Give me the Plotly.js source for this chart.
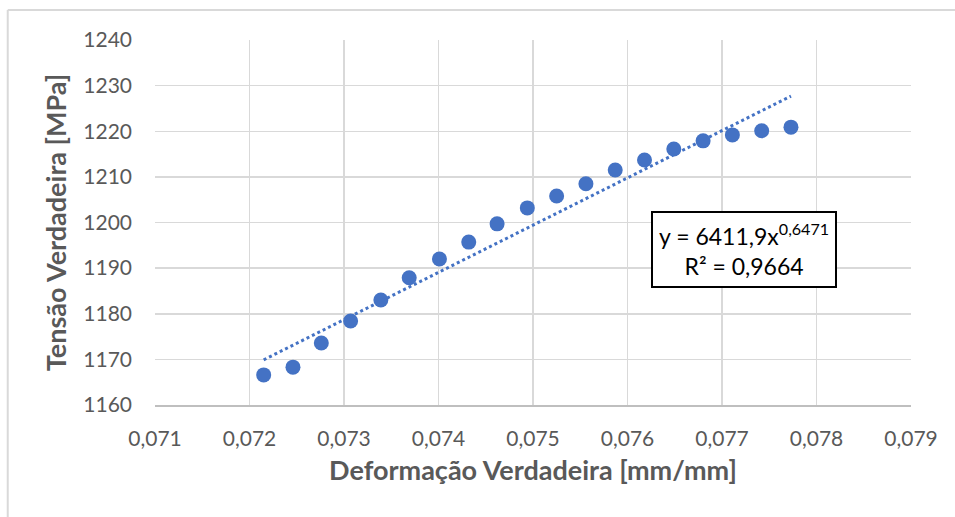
<!DOCTYPE html>
<html>
<head>
<meta charset="utf-8">
<script src="https://cdn.plot.ly/plotly-3.0.1.min.js"></script>
<style>html,body{margin:0;padding:0;background:#fff;}#chart{width:955px;height:517px;}</style>
</head>
<body>
<div id="chart"></div>
<script>
var strain = [0.07215, 0.07246, 0.07276, 0.07307, 0.07339, 0.07369, 0.07401, 0.07432, 0.07462, 0.07494,
              0.07525, 0.07556, 0.07587, 0.07618, 0.07649, 0.07680, 0.07711, 0.07742, 0.07773];
var stress = [1166.6, 1168.3, 1173.6, 1178.4, 1183.0, 1187.9, 1192.0, 1195.7, 1199.7, 1203.2,
              1205.8, 1208.5, 1211.5, 1213.7, 1216.1, 1217.9, 1219.2, 1220.1, 1220.9];
var trendX = [0.07215, 0.07494, 0.07773];
var trendY = [1169.9, 1198.8, 1227.7];
var xTickVals = [0.071, 0.072, 0.073, 0.074, 0.075, 0.076, 0.077, 0.078, 0.079];
var xTickText = ["0,071", "0,072", "0,073", "0,074", "0,075", "0,076", "0,077", "0,078", "0,079"];
var yTickVals = [1160, 1170, 1180, 1190, 1200, 1210, 1220, 1230, 1240];
var eqText = "y = 6411,9x<sup>0,6471</sup><br>R² = 0,9664";

var font = "Lato, 'Open Sans', sans-serif";
var traces = [
  {x: strain, y: stress, type: 'scatter', mode: 'markers',
   marker: {color: '#4472C4', size: 15}, hoverinfo: 'x+y'},
  {x: trendX, y: trendY, type: 'scatter', mode: 'lines',
   line: {color: '#4472C4', width: 3, dash: 'dot'}, hoverinfo: 'skip'}
];
var layout = {
  width: 955, height: 517,
  margin: {l: 154.5, r: 43.5, t: 40, b: 112},
  paper_bgcolor: '#fff', plot_bgcolor: '#fff',
  showlegend: false,
  separators: ', ',
  font: {family: font, color: '#595959', size: 21},
  xaxis: {range: [0.071, 0.079], tickvals: xTickVals, ticktext: xTickText,
          showgrid: true, gridcolor: '#d9d9d9', gridwidth: 1.5,
          showline: true, linecolor: '#bfbfbf', linewidth: 2, zeroline: false,
          ticks: '', ticklen: 0, ticklabelstandoff: 14, tickfont: {size: 21, color: '#595959'},
          title: {text: 'Deformação Verdadeira [mm/mm]', font: {size: 27, color: '#595959', family: font, weight: 'bold'}, standoff: 12}},
  yaxis: {range: [1160, 1240], tickvals: yTickVals,
          showgrid: true, gridcolor: '#d9d9d9', gridwidth: 1.5,
          showline: false, zeroline: false, ticks: '', ticklabelstandoff: 22, tickfont: {size: 21, color: '#595959'},
          title: {text: 'Tensão Verdadeira [MPa]', font: {size: 27, color: '#595959', family: font, weight: 'bold'}, standoff: 8}},
  annotations: [{
    x: 0.077228, y: 1194.1, xref: 'x', yref: 'y', text: eqText, showarrow: false,
    xanchor: 'center', yanchor: 'middle', align: 'center',
    font: {size: 23, color: '#000', family: font},
    bgcolor: '#fff', bordercolor: '#000', borderwidth: 2, borderpad: 6
  }],
  shapes: [
    {type: 'line', xref: 'paper', yref: 'paper', x0: -0.1948, x1: 1.1, y0: 1.0822, y1: 1.0822, line: {color: '#d9d9d9', width: 2}},
    {type: 'line', xref: 'paper', yref: 'paper', x0: -0.1948, x1: -0.1948, y0: 1.0822, y1: -0.35, line: {color: '#d9d9d9', width: 2}}
  ]
};
Plotly.newPlot('chart', traces, layout, {displayModeBar: false, staticPlot: true});
</script>
</body>
</html>
